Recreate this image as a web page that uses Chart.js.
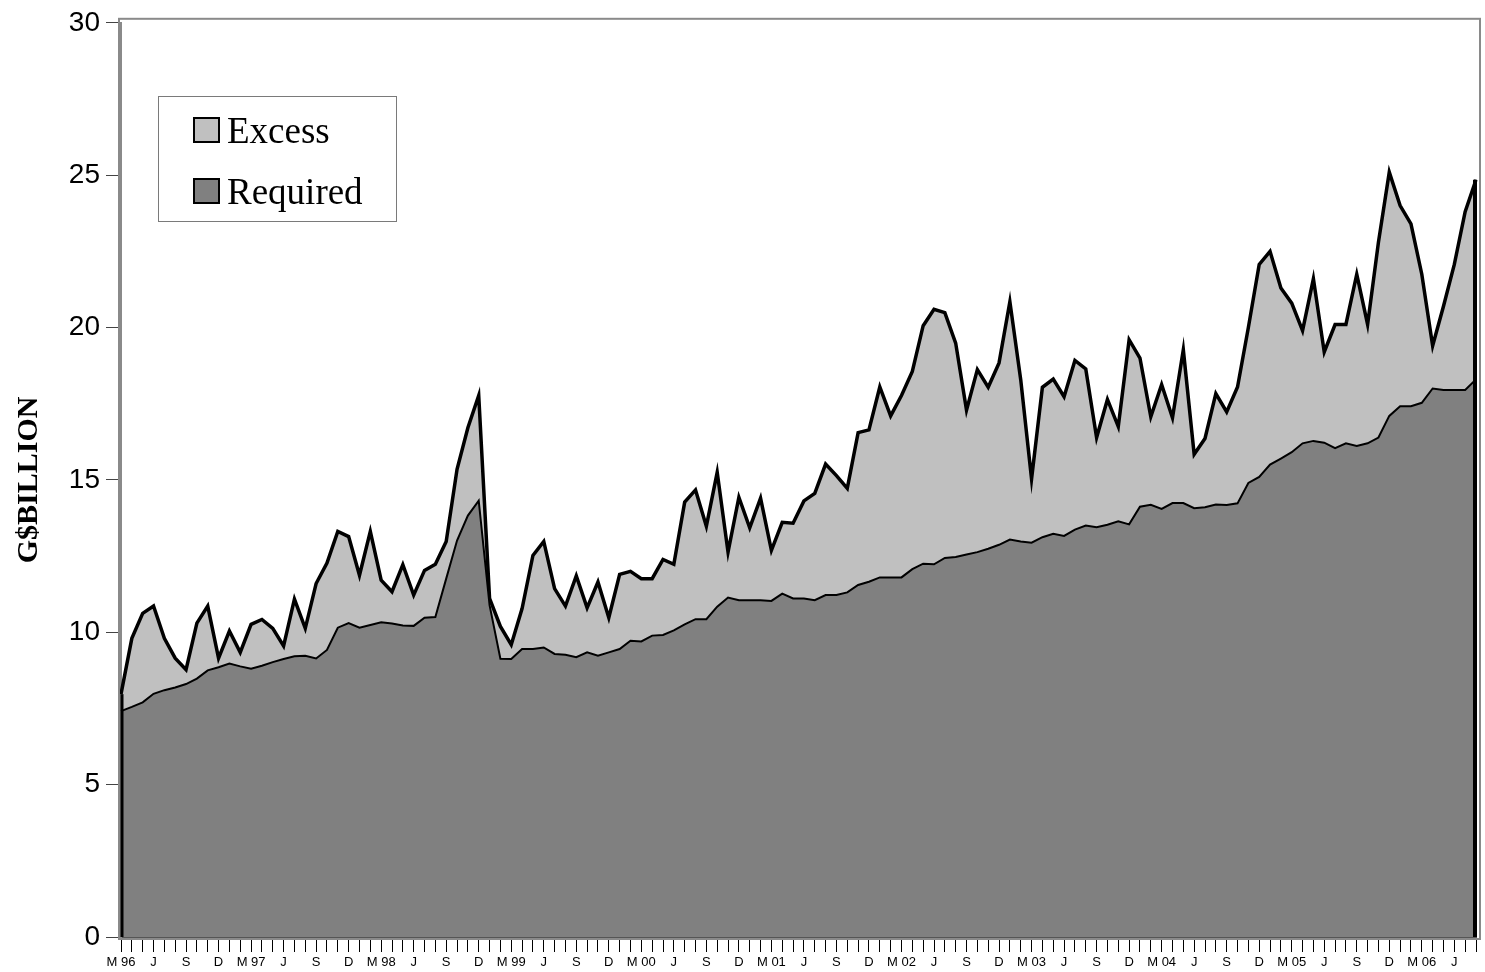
<!DOCTYPE html>
<html>
<head>
<meta charset="utf-8">
<script src="https://cdn.jsdelivr.net/npm/chart.js@4/dist/chart.umd.min.js"></script>
<style>
  html, body { margin: 0; padding: 0; background: #fff; }
  #wrap { position: relative; width: 1485px; height: 972px; }
</style>
</head>
<body>
<div id="wrap"><canvas id="reserves"></canvas></div>
<script>
'use strict';

// quarterly tick labels, Mar 1996 .. Jun 2006 (one every 3 months)
const quarterLabels = [
  'M 96','J','S','D','M 97','J','S','D','M 98','J','S','D','M 99','J','S','D',
  'M 00','J','S','D','M 01','J','S','D','M 02','J','S','D','M 03','J','S','D',
  'M 04','J','S','D','M 05','J','S','D','M 06','J'
];

// total reserves (required + excess), G$ billion, monthly Mar 1996 .. Aug 2006
const totalReserves = [
  7.97, 9.8, 10.62, 10.86, 9.8, 9.15, 8.77, 10.3, 10.86, 9.15, 10.04, 9.34, 10.26, 10.42, 10.13, 9.55, 11.09, 10.13, 11.6, 12.27,
  13.31, 13.14, 11.87, 13.31, 11.71, 11.33, 12.22, 11.22, 12.03, 12.23, 12.98, 15.35, 16.71, 17.77, 11.11, 10.19, 9.59, 10.78, 12.52, 12.98,
  11.43, 10.86, 11.85, 10.8, 11.65, 10.48, 11.9, 12.0, 11.76, 11.76, 12.39, 12.23, 14.27, 14.67, 13.48, 15.25, 12.63, 14.43, 13.43, 14.4,
  12.69, 13.61, 13.58, 14.31, 14.56, 15.52, 15.14, 14.72, 16.55, 16.64, 18.05, 17.1, 17.77, 18.56, 20.06, 20.6, 20.49, 19.49, 17.29, 18.62,
  18.04, 18.84, 20.85, 18.29, 15.03, 18.04, 18.31, 17.73, 18.92, 18.64, 16.39, 17.64, 16.75, 19.6, 19.0, 17.07, 18.13, 17.04, 19.27, 15.84,
  16.36, 17.83, 17.23, 18.05, 20.0, 22.07, 22.5, 21.3, 20.8, 19.9, 21.6, 19.2, 20.1, 20.1, 21.75, 20.1, 22.8, 25.1, 24.0, 23.4,
  21.75, 19.4, 20.7, 22.07, 23.8, 24.85
];

// required reserves, G$ billion
const requiredReserves = [
  7.41, 7.55, 7.70, 7.98, 8.10, 8.19, 8.30, 8.48, 8.75, 8.85, 8.97, 8.88, 8.80, 8.90, 9.02, 9.12, 9.21, 9.23, 9.14, 9.42,
  10.15, 10.30, 10.15, 10.24, 10.33, 10.29, 10.22, 10.21, 10.48, 10.50, 11.76, 13.01, 13.83, 14.32, 10.89, 9.13, 9.12, 9.45, 9.45, 9.50,
  9.29, 9.26, 9.18, 9.34, 9.23, 9.34, 9.45, 9.72, 9.70, 9.89, 9.91, 10.06, 10.26, 10.43, 10.43, 10.84, 11.14, 11.05, 11.05, 11.05,
  11.03, 11.27, 11.11, 11.11, 11.05, 11.22, 11.22, 11.31, 11.55, 11.66, 11.80, 11.80, 11.80, 12.07, 12.25, 12.23, 12.44, 12.47, 12.55, 12.63,
  12.74, 12.87, 13.04, 12.98, 12.94, 13.12, 13.23, 13.16, 13.37, 13.50, 13.45, 13.53, 13.64, 13.54, 14.12, 14.18, 14.05, 14.24, 14.24, 14.07,
  14.10, 14.19, 14.18, 14.23, 14.9, 15.1, 15.5, 15.7, 15.91, 16.2, 16.28, 16.22, 16.04, 16.2, 16.11, 16.2, 16.39, 17.1, 17.42, 17.42,
  17.53, 18.0, 17.95, 17.95, 17.95, 18.3
];

const yTicks = [0, 5, 10, 15, 20, 25, 30];

// one category per month, label only on the quarter
const months = [];
quarterLabels.forEach(q => months.push(q, '', ''));
months.length = totalReserves.length;

const G = {
  dark:  '#808080',
  light: '#c0c0c0',
  frame: '#8a8a8a',
};

// gray frame round the plot + black edges closing the areas
const framePlugin = {
  id: 'frame',
  beforeDraw(chart) {
    const { ctx } = chart;
    ctx.save();
    ctx.fillStyle = '#fff';
    ctx.fillRect(0, 0, chart.width, chart.height);
    ctx.restore();
  },
  afterDatasetsDraw(chart) {
    const { ctx, chartArea: a, scales: { x, y } } = chart;
    const last = totalReserves.length - 1;
    ctx.save();
    ctx.strokeStyle = '#000';
    ctx.lineCap = 'butt';
    ctx.lineWidth = 3;
    ctx.beginPath();
    ctx.moveTo(x.getPixelForValue(0) + 1, y.getPixelForValue(0));
    ctx.lineTo(x.getPixelForValue(0) + 1, y.getPixelForValue(totalReserves[0]));
    ctx.stroke();
    ctx.lineWidth = 4;
    ctx.beginPath();
    ctx.moveTo(x.getPixelForValue(last) - 1, y.getPixelForValue(0));
    ctx.lineTo(x.getPixelForValue(last) - 1, y.getPixelForValue(totalReserves[last]));
    ctx.stroke();

    ctx.strokeStyle = G.frame;
    ctx.lineWidth = 2;
    ctx.strokeRect(a.left - 2, a.top - 4, a.right - a.left + 6, a.bottom - a.top + 6);
    ctx.restore();
  },
};

// legend drawn inside the plot, boxed
const boxLegend = {
  id: 'boxLegend',
  afterDraw(chart) {
    const { ctx } = chart;
    const items = chart.data.datasets.slice().reverse();
    ctx.save();
    ctx.strokeStyle = '#7a7a7a';
    ctx.lineWidth = 1;
    ctx.strokeRect(158.5, 96.5, 238, 125);
    ctx.font = '37px "Liberation Serif", "Times New Roman", serif';
    ctx.textBaseline = 'alphabetic';
    ctx.textAlign = 'left';
    items.forEach((d, i) => {
      const top = 118 + i * 61;
      ctx.fillStyle = d.backgroundColor;
      ctx.fillRect(194, top, 25, 24);
      ctx.strokeStyle = '#000';
      ctx.lineWidth = 2;
      ctx.strokeRect(194, top, 25, 24);
      ctx.fillStyle = '#000';
      ctx.fillText(d.label, 227, top + 25);
    });
    ctx.restore();
  },
};

new Chart(document.getElementById('reserves'), {
  type: 'line',
  data: {
    labels: months,
    datasets: [
      {
        label: 'Required',
        data: requiredReserves,
        fill: 'origin',
        backgroundColor: G.dark,
        borderColor: '#000',
        borderWidth: 2,
        pointRadius: 0,
        tension: 0,
      },
      {
        label: 'Excess',
        data: totalReserves,
        fill: '-1',
        backgroundColor: G.light,
        borderColor: '#000',
        borderWidth: 3.5,
        pointRadius: 0,
        tension: 0,
      },
    ],
  },
  options: {
    responsive: true,
    maintainAspectRatio: false,
    animation: false,
    events: [],
    layout: { padding: { left: 0, top: 21, right: 9, bottom: 0 } },
    plugins: {
      legend: { display: false },
      tooltip: { enabled: false },
    },
    scales: {
      x: {
        type: 'category',
        offset: false,
        border: { display: true, color: '#555', width: 1 },
        grid: { display: true, drawOnChartArea: false, drawTicks: true, tickLength: 15, tickColor: '#000', lineWidth: 1 },
        ticks: {
          autoSkip: false,
          maxRotation: 0,
          minRotation: 0,
          padding: 3,
          color: '#000',
          font: { family: '"Liberation Sans Narrow", "Arial Narrow", "Liberation Sans", Arial, sans-serif', size: 13 },
        },
        afterFit(scale) { scale.height = 35; },
      },
      y: {
        min: 0,
        max: 30,
        afterBuildTicks(scale) { scale.ticks = yTicks.map(v => ({ value: v })); },
        border: { display: true, color: G.frame, width: 2 },
        grid: { display: true, drawOnChartArea: false, drawTicks: true, tickLength: 15, tickColor: '#444', lineWidth: 1 },
        ticks: {
          padding: 6,
          color: '#000',
          font: { family: '"Liberation Sans", Arial, sans-serif', size: 28 },
        },
        title: {
          display: true,
          text: 'G$BILLION',
          color: '#000',
          padding: { top: 11, bottom: 0 },
          font: { family: '"Liberation Serif", "Times New Roman", serif', size: 30, weight: 'bold', lineHeight: 1.2 },
        },
        afterFit(scale) { scale.width = 121; },
      },
    },
  },
  plugins: [framePlugin, boxLegend],
});
</script>
</body>
</html>
